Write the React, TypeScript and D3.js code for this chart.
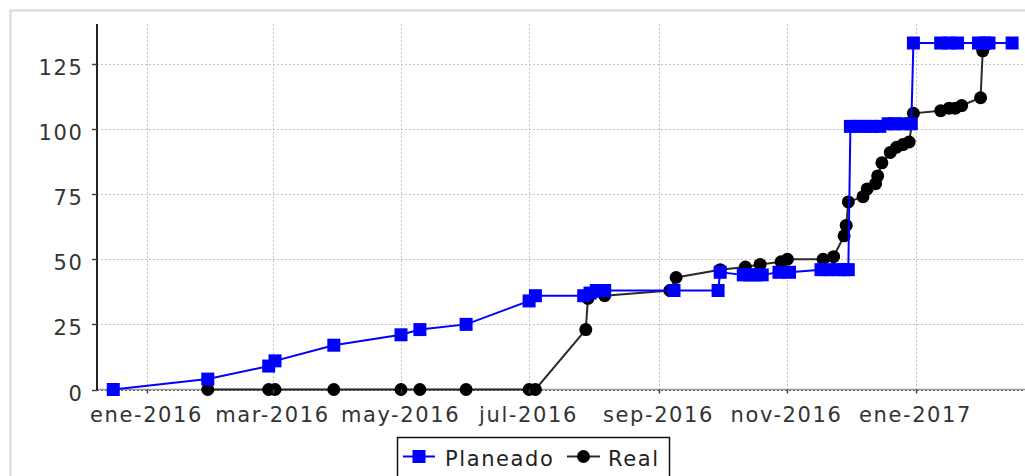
import React, { useEffect, useRef } from "react";
import * as d3 from "d3";

// serie planeada (cuadrados azules)
const planeadoDates = [
  "2015-12-16", "2016-01-30", "2016-02-28", "2016-03-02", "2016-03-30", "2016-05-01",
  "2016-05-10", "2016-06-01", "2016-07-01", "2016-07-04", "2016-07-27", "2016-07-30",
  "2016-08-02", "2016-08-06", "2016-09-08", "2016-09-29", "2016-09-30", "2016-10-11",
  "2016-10-14", "2016-10-17", "2016-10-20", "2016-10-28", "2016-11-02", "2016-11-17",
  "2016-11-21", "2016-11-25", "2016-11-28", "2016-11-30", "2016-12-01", "2016-12-04",
  "2016-12-08", "2016-12-11", "2016-12-15", "2016-12-19", "2016-12-22", "2016-12-26",
  "2016-12-30", "2016-12-31", "2017-01-13", "2017-01-17", "2017-01-21", "2017-01-31",
  "2017-02-03", "2017-02-05", "2017-02-16",
];
const planeadoValues = [
  0, 4, 9, 11, 17, 21,
  23, 25, 34, 36, 36, 37,
  38, 38, 38, 38, 45, 44,
  44, 44, 44, 45, 45, 46,
  46, 46, 46, 46, 101, 101,
  101, 101, 101, 102, 102, 102,
  102, 133, 133, 133, 133, 133,
  133, 133, 133,
];

// serie real (circulos negros)
const realDates = [
  "2016-01-30", "2016-02-28", "2016-03-02", "2016-03-30", "2016-05-01", "2016-05-10",
  "2016-06-01", "2016-07-01", "2016-07-04", "2016-07-28", "2016-07-29", "2016-08-06",
  "2016-09-06", "2016-09-09", "2016-09-30", "2016-10-12", "2016-10-19", "2016-10-29",
  "2016-11-01", "2016-11-18", "2016-11-23", "2016-11-28", "2016-11-29", "2016-11-30",
  "2016-12-07", "2016-12-09", "2016-12-13", "2016-12-14", "2016-12-16", "2016-12-20",
  "2016-12-23", "2016-12-26", "2016-12-29", "2016-12-31", "2017-01-13", "2017-01-17",
  "2017-01-20", "2017-01-23", "2017-02-01", "2017-02-02", "2017-02-03",
];
const realValues = [
  0, 0, 0, 0, 0, 0,
  0, 0, 0, 23, 35, 36,
  38, 43, 46, 47, 48, 49,
  50, 50, 51, 59, 63, 72,
  74, 77, 79, 82, 87, 91,
  93, 94, 95, 106, 107, 108,
  108, 109, 112, 130, 132,
];

const seriesNames = ["Planeado", "Real"];
const yTicks = [0, 25, 50, 75, 100, 125];
const xTickDates = ["2016-01-01", "2016-03-01", "2016-05-01", "2016-07-01", "2016-09-01", "2016-11-01", "2017-01-01"];
const xTickLabels = ["ene-2016", "mar-2016", "may-2016", "jul-2016", "sep-2016", "nov-2016", "ene-2017"];

function App() {
  const ref = useRef<SVGSVGElement>(null);

  useEffect(() => {
    const W = 1025, H = 476;
    const left = 97, top = 24, bottom = 389.5, right = 1025;
    const parse = d3.utcParse("%Y-%m-%d");
    const font = "'DejaVu Sans', Verdana, sans-serif";
    const sq = 13, r = 6.5;

    const svg = d3.select(ref.current);
    svg.selectAll("*").remove();

    svg.append("rect").attr("width", W).attr("height", H).attr("fill", "#fff");
    // borde del panel
    svg.append("rect")
      .attr("x", 10.5).attr("y", 10.5)
      .attr("width", W + 20).attr("height", H + 20)
      .attr("fill", "#fff").attr("stroke", "#dcd8d0").attr("stroke-width", 2);

    const x = d3.scaleUtc()
      .domain([parse("2015-12-08")!, parse("2017-02-25")!])
      .range([96.5, 1031]);
    const y = d3.scaleLinear().domain([0, 140.3]).range([bottom, top]);

    svg.append("defs").append("clipPath").attr("id", "plot")
      .append("rect").attr("x", left).attr("y", 12).attr("width", right - left).attr("height", H - 12);

    // rejilla
    const grid = svg.append("g");
    xTickDates.forEach(d => {
      const xx = Math.round(x(parse(d)!)) + 0.5;
      grid.append("line").attr("x1", xx).attr("x2", xx).attr("y1", top).attr("y2", bottom)
        .attr("stroke", "#c4c4c4").attr("stroke-dasharray", "2,2");
    });
    // eje x
    svg.append("line").attr("x1", left).attr("x2", right).attr("y1", bottom).attr("y2", bottom)
      .attr("stroke", "#9a9a9a").attr("stroke-width", 1.5);
    yTicks.forEach(v => {
      const yy = Math.round(y(v)) + 0.5;
      grid.append("line").attr("x1", left).attr("x2", right).attr("y1", yy).attr("y2", yy)
        .attr("stroke", v === 0 ? "#555" : "#c4c4c4").attr("stroke-dasharray", "2,2");
    });

    const plot = svg.append("g").attr("clip-path", "url(#plot)");
    const line = d3.line<[Date, number]>().x(d => x(d[0])).y(d => y(d[1]));

    const realData: [Date, number][] = realDates.map((d, i) => [parse(d)!, realValues[i]]);
    const planData: [Date, number][] = planeadoDates.map((d, i) => [parse(d)!, planeadoValues[i]]);

    // Real primero, Planeado encima
    plot.append("path").datum(realData).attr("d", line).attr("fill", "none")
      .attr("stroke", "#2a2a2a").attr("stroke-width", 2);
    plot.selectAll(".real").data(realData).enter().append("circle")
      .attr("cx", d => x(d[0])).attr("cy", d => y(d[1])).attr("r", r).attr("fill", "#000");

    plot.append("path").datum(planData).attr("d", line).attr("fill", "none")
      .attr("stroke", "#0000ff").attr("stroke-width", 2);
    plot.selectAll(".plan").data(planData).enter().append("rect")
      .attr("x", d => x(d[0]) - sq / 2).attr("y", d => y(d[1]) - sq / 2)
      .attr("width", sq).attr("height", sq).attr("fill", "#0000ff");

    // eje y
    svg.append("line").attr("x1", left).attr("x2", left).attr("y1", top).attr("y2", bottom + 1)
      .attr("stroke", "#222").attr("stroke-width", 2);
    yTicks.forEach(v => {
      const yy = Math.round(y(v)) + 0.5;
      svg.append("line").attr("x1", left - 5).attr("x2", left).attr("y1", yy).attr("y2", yy)
        .attr("stroke", "#444").attr("stroke-width", 1.5);
      svg.append("text").attr("x", 83.5).attr("y", yy + 10)
        .attr("text-anchor", "end").attr("font-family", font).attr("font-size", 21)
        .attr("letter-spacing", 1.6).attr("fill", "#333").text(String(v));
    });

    xTickDates.forEach((d, i) => {
      const xx = Math.round(x(parse(d)!)) + 0.5;
      svg.append("line").attr("x1", xx).attr("x2", xx).attr("y1", bottom).attr("y2", bottom + 4)
        .attr("stroke", "#444").attr("stroke-width", 1.5);
      svg.append("text").attr("x", xx - 1).attr("y", 422)
        .attr("text-anchor", "middle").attr("font-family", font).attr("font-size", 21)
        .attr("letter-spacing", 1.6).attr("fill", "#333").text(xTickLabels[i]);
    });

    // leyenda
    const lg = svg.append("g");
    lg.append("rect").attr("x", 397.5).attr("y", 437.5).attr("width", 272).attr("height", 60)
      .attr("fill", "#fff").attr("stroke", "#111").attr("stroke-width", 1.5);
    const ly = 456.5;
    lg.append("line").attr("x1", 403).attr("x2", 435).attr("y1", ly).attr("y2", ly)
      .attr("stroke", "#0000ff").attr("stroke-width", 2);
    lg.append("rect").attr("x", 419 - sq / 2).attr("y", ly - sq / 2).attr("width", sq).attr("height", sq).attr("fill", "#0000ff");
    lg.append("text").attr("x", 445).attr("y", 466).attr("font-family", font).attr("font-size", 21)
      .attr("letter-spacing", 1.6).attr("fill", "#222").text(seriesNames[0]);
    lg.append("line").attr("x1", 567).attr("x2", 600).attr("y1", ly).attr("y2", ly)
      .attr("stroke", "#2a2a2a").attr("stroke-width", 2);
    lg.append("circle").attr("cx", 583.5).attr("cy", ly).attr("r", r).attr("fill", "#000");
    lg.append("text").attr("x", 608).attr("y", 466).attr("font-family", font).attr("font-size", 21)
      .attr("letter-spacing", 1.6).attr("fill", "#222").text(seriesNames[1]);
  }, []);

  return (
    <svg ref={ref} width={1025} height={476}
      style={{ position: "absolute", left: 0, top: 0, display: "block" }} />
  );
}

export default App;
